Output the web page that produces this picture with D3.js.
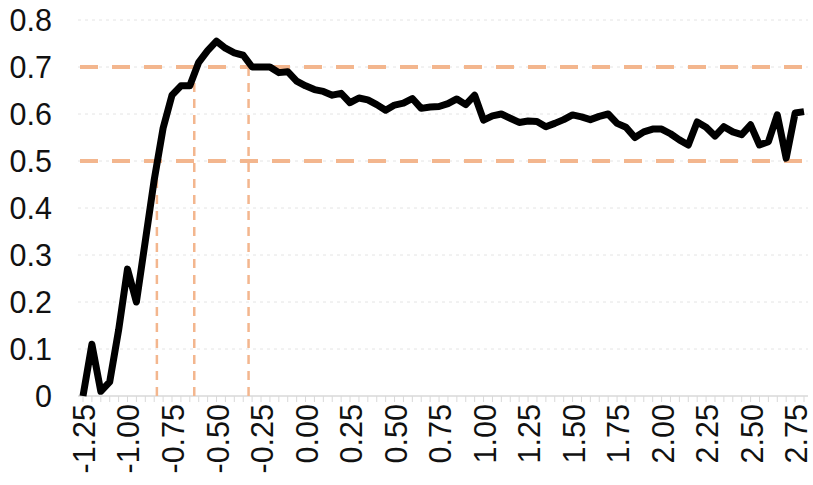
<!DOCTYPE html>
<html>
<head>
<meta charset="utf-8">
<script src="https://cdn.jsdelivr.net/npm/d3@7"></script>
<style>
  body { margin: 0; background: #fff; }
  svg { display: block; font-family: "Liberation Sans", Arial, sans-serif; }
</style>
</head>
<body>
<div id="chart"></div>
<script>
// x positions of the samples (category steps of 0.05)
const xValues = [
  -1.25, -1.20, -1.15, -1.10, -1.05, -1.00, -0.95, -0.90, -0.85, -0.80,
  -0.75, -0.70, -0.65, -0.60, -0.55, -0.50, -0.45, -0.40, -0.35, -0.30,
  -0.25, -0.20, -0.15, -0.10, -0.05, 0.00, 0.05, 0.10, 0.15, 0.20,
  0.25, 0.30, 0.35, 0.40, 0.45, 0.50, 0.55, 0.60, 0.65, 0.70,
  0.75, 0.80, 0.85, 0.90, 0.95, 1.00, 1.05, 1.10, 1.15, 1.20,
  1.25, 1.30, 1.35, 1.40, 1.45, 1.50, 1.55, 1.60, 1.65, 1.70,
  1.75, 1.80, 1.85, 1.90, 1.95, 2.00, 2.05, 2.10, 2.15, 2.20,
  2.25, 2.30, 2.35, 2.40, 2.45, 2.50, 2.55, 2.60, 2.65, 2.70,
  2.75, 2.80
];

const yValues = [
  0.00, 0.11, 0.01, 0.03, 0.14, 0.27, 0.20, 0.33, 0.46, 0.57,
  0.64, 0.66, 0.66, 0.71, 0.735, 0.755, 0.74, 0.73, 0.725, 0.70,
  0.70, 0.70, 0.688, 0.69, 0.67, 0.66, 0.652, 0.648, 0.64, 0.644,
  0.624, 0.634, 0.63, 0.62, 0.608, 0.619, 0.623, 0.633, 0.612, 0.615,
  0.616, 0.622, 0.632, 0.62, 0.64, 0.587, 0.596, 0.60, 0.591, 0.582,
  0.585, 0.584, 0.573, 0.58, 0.588, 0.598, 0.594, 0.588, 0.595, 0.60,
  0.58, 0.572, 0.55, 0.562, 0.568, 0.568, 0.558, 0.545, 0.534, 0.583,
  0.572, 0.553, 0.573, 0.562, 0.556, 0.577, 0.534, 0.541, 0.598, 0.506,
  0.602, 0.605
];

const xTickLabels = ['-1.25', '-1.00', '-0.75', '-0.50', '-0.25', '0.00', '0.25', '0.50',
  '0.75', '1.00', '1.25', '1.50', '1.75', '2.00', '2.25', '2.50', '2.75'];
const yTicks = [0, 0.1, 0.2, 0.3, 0.4, 0.5, 0.6, 0.7, 0.8];

// reference levels and where the curve crosses them
const thresholds = [0.5, 0.7];
const crossings = [
  { x: -0.835, level: 0.5 },
  { x: -0.625, level: 0.7 },
  { x: -0.32, level: 0.7 }
];

const width = 813;
const height = 485;
const left = 78, right = 808;
const orange = '#f3b68e';

const x = d3.scaleLinear().domain([-1.25, 2.80]).range([83, 804]);
const y = d3.scaleLinear().domain([0, 0.8]).range([396, 20]);

const svg = d3.select('#chart')
  .append('svg')
  .attr('width', width)
  .attr('height', height);

// faint grid
svg.append('g')
  .selectAll('line')
  .data(yTicks.filter(d => d > 0))
  .enter()
  .append('line')
  .attr('x1', left)
  .attr('x2', right)
  .attr('y1', d => y(d))
  .attr('y2', d => y(d))
  .attr('stroke', '#e4e4e4')
  .attr('stroke-width', 1)
  .attr('stroke-dasharray', '3,4');

// y labels
svg.append('g')
  .selectAll('text')
  .data(yTicks)
  .enter()
  .append('text')
  .attr('x', 52)
  .attr('y', d => y(d))
  .attr('dy', '0.36em')
  .attr('text-anchor', 'end')
  .attr('font-size', 30.5)
  .attr('fill', '#111')
  .text(d => d === 0 ? '0' : d3.format('.1f')(d));

// x axis: baseline with a small tick at every sample
const xAxis = svg.append('g')
  .attr('transform', 'translate(0,' + y(0) + ')');

xAxis.append('line')
  .attr('x1', left)
  .attr('x2', right)
  .attr('stroke', '#d9d9d9')
  .attr('stroke-width', 1.5);

xAxis.selectAll('line.tick')
  .data(xValues)
  .enter()
  .append('line')
  .attr('class', 'tick')
  .attr('x1', d => x(d))
  .attr('x2', d => x(d))
  .attr('y1', 0)
  .attr('y2', 6)
  .attr('stroke', '#d9d9d9')
  .attr('stroke-width', 1);

xAxis.selectAll('text')
  .data(xTickLabels)
  .enter()
  .append('text')
  .attr('transform', d => 'translate(' + (x(+d) + 1) + ',8) rotate(-90)')
  .attr('dy', '0.36em')
  .attr('text-anchor', 'end')
  .attr('font-size', 30.5)
  .attr('fill', '#111')
  .text(d => d);

// orange reference lines
svg.append('g')
  .selectAll('line')
  .data(thresholds)
  .enter()
  .append('line')
  .attr('x1', left + 2)
  .attr('x2', right)
  .attr('y1', d => y(d))
  .attr('y2', d => y(d))
  .attr('stroke', orange)
  .attr('stroke-width', 4)
  .attr('stroke-dasharray', '18,14');

svg.append('g')
  .selectAll('line')
  .data(crossings)
  .enter()
  .append('line')
  .attr('x1', d => x(d.x))
  .attr('x2', d => x(d.x))
  .attr('y1', y(0))
  .attr('y2', d => y(d.level))
  .attr('stroke', orange)
  .attr('stroke-width', 2.5)
  .attr('stroke-dasharray', '9,7');

// the curve
const line = d3.line()
  .x((d, i) => x(xValues[i]))
  .y(d => y(d));

svg.append('path')
  .datum(yValues)
  .attr('d', line)
  .attr('fill', 'none')
  .attr('stroke', '#000')
  .attr('stroke-width', 7)
  .attr('stroke-linejoin', 'round')
  .attr('stroke-linecap', 'butt');
</script>
</body>
</html>
